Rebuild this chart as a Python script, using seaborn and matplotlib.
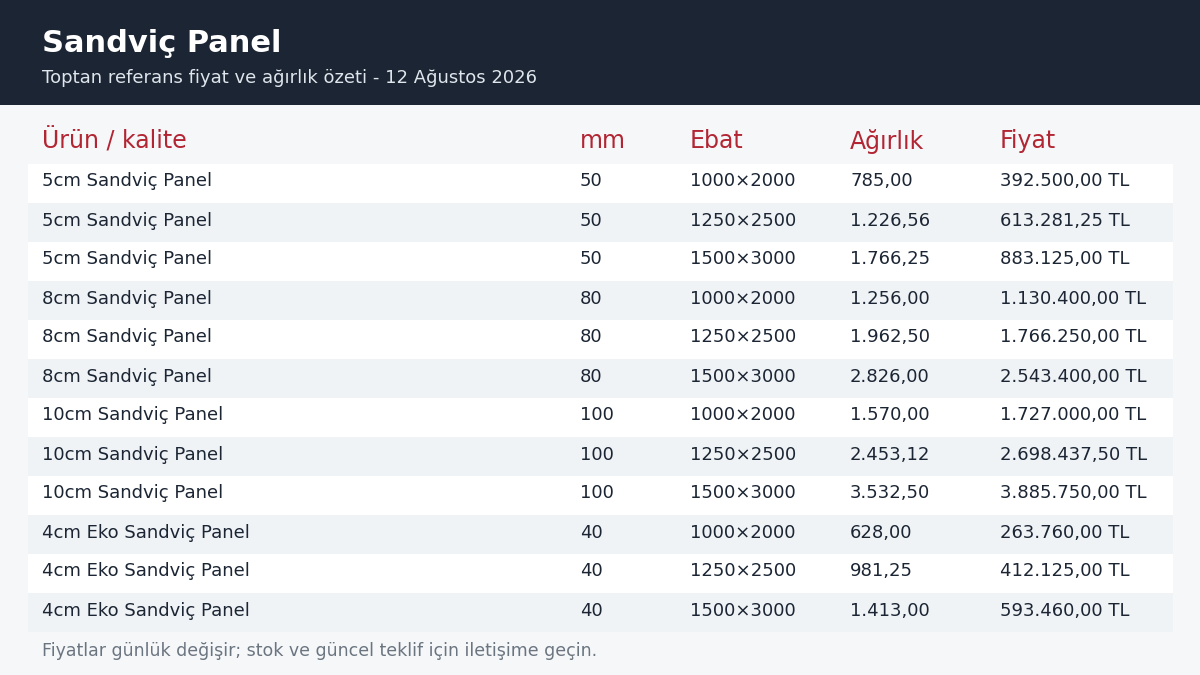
"""Sandviç panel reference price table rendered as a figure."""

import matplotlib

matplotlib.use("Agg")
import matplotlib.pyplot as plt
import seaborn as sns

sns.set_theme(style="white")
plt.rcParams["font.family"] = ["DejaVu Sans"]

TITLE = "Sandviç Panel"
SUBTITLE = "Toptan referans fiyat ve ağırlık özeti - 12 Ağustos 2026"
FOOTER = "Fiyatlar günlük değişir; stok ve güncel teklif için iletişime geçin."

columns = ["Ürün / kalite", "mm", "Ebat", "Ağırlık", "Fiyat"]
products = ["5cm Sandviç Panel"] * 3 + ["8cm Sandviç Panel"] * 3 + ["10cm Sandviç Panel"] * 3 + ["4cm Eko Sandviç Panel"] * 3
thickness = ["50", "50", "50", "80", "80", "80", "100", "100", "100", "40", "40", "40"]
sizes = ["1000×2000", "1250×2500", "1500×3000"] * 4
weights = ["785,00", "1.226,56", "1.766,25", "1.256,00", "1.962,50", "2.826,00",
           "1.570,00", "2.453,12", "3.532,50", "628,00", "981,25", "1.413,00"]
prices = ["392.500,00 TL", "613.281,25 TL", "883.125,00 TL", "1.130.400,00 TL",
          "1.766.250,00 TL", "2.543.400,00 TL", "1.727.000,00 TL", "2.698.437,50 TL",
          "3.885.750,00 TL", "263.760,00 TL", "412.125,00 TL", "593.460,00 TL"]

col_x = [42, 580, 690, 850, 1000]
header_bg = "#1b2533"
body_bg = "#f5f7f9"
red = "#b22533"
text_dark = "#1b2533"

fig = plt.figure(figsize=(12, 6.75), dpi=100, facecolor=body_bg)
ax = fig.add_axes([0, 0, 1, 1])
ax.set_xlim(0, 1200)
ax.set_ylim(675, 0)
ax.axis("off")
ax.set_facecolor(body_bg)

ax.add_patch(plt.Rectangle((0, 0), 1200, 105, color=header_bg, lw=0))
ax.text(42, 43, TITLE, color="white", fontsize=22, fontweight="bold", va="center")
ax.text(42, 78, SUBTITLE, color="#dfe5ec", fontsize=13, va="center")

for x, name in zip(col_x, columns):
    ax.text(x, 141, name, color=red, fontsize=17, va="center")

row_top, row_h = 164, 39
for i, row in enumerate(zip(products, thickness, sizes, weights, prices)):
    y = row_top + i * row_h
    fill = "white" if i % 2 == 0 else "#f0f3f6"
    ax.add_patch(plt.Rectangle((28, y), 1145, row_h, color=fill, lw=0))
    for x, value in zip(col_x, row):
        ax.text(x, y + row_h / 2 - 2, value, color=text_dark, fontsize=13, va="center")

ax.text(42, 651, FOOTER, color="#6b7580", fontsize=12.5, va="center")

fig.savefig("out.png", dpi=100, facecolor=body_bg)
plt.close(fig)
